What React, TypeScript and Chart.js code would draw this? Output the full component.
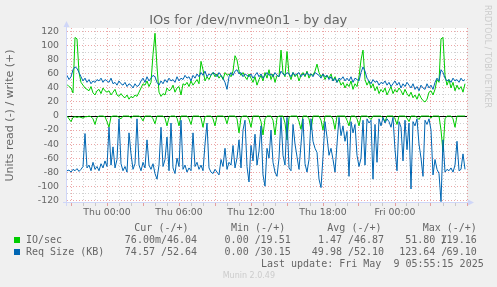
import React, { useEffect, useRef } from "react";
import { Chart, registerables } from "chart.js";

Chart.register(...registerables);

// ---- sampling (Wed 20:40 -> Fri 05:50, 10-minute samples, hours relative to Thu 00:00)
const START_HOUR = -10 / 3;
const STEP_HOUR = 1 / 6;

// ---- IO/sec, write (+)
const ioWrite = [
  45, 42, 40, 33, 112, 110, 62, 48, 44, 40,
  38, 36, 42, 33, 30, 36, 38, 32, 40, 36,
  34, 36, 30, 34, 38, 30, 28, 32, 28, 26,
  30, 24, 28, 26, 30, 28, 34, 40, 46, 44,
  50, 42, 48, 88, 118, 70, 34, 28, 32, 30,
  40, 36, 38, 44, 34, 40, 42, 30, 46, 44,
  48, 42, 50, 44, 48, 52, 46, 78, 66, 50,
  56, 52, 58, 62, 56, 60, 54, 58, 52, 62,
  58, 60, 56, 64, 86, 80, 64, 58, 62, 56,
  52,
  60, 54, 48, 56, 44, 52, 58, 50, 62, 54,
  66, 52, 60, 48, 58, 56, 94, 62, 56, 92,
  60, 52, 62, 56, 60, 50, 58, 62, 56, 64,
  54, 60, 58, 64, 74, 62, 56, 60, 52, 58,
  54, 60, 50, 56, 48, 52, 44, 48, 40, 46,
  42, 50, 38, 46, 42, 56, 80, 94, 52, 44,
  50, 40, 46, 36, 42, 32, 38, 34, 40, 30,
  36, 42, 32, 38, 34, 40, 36, 30, 38, 32,
  28, 34, 26, 30, 24, 32, 26, 22, 20, 24,
  34, 36, 30, 38, 52, 48, 110, 112, 58, 44,
  52, 40, 48, 36, 44, 38, 42, 34, 46,
];

// ---- IO/sec, read (-)
const ioRead = [
  0, -4, -8, -2, -1, -2, -1, -2, -3, -1,
  -1, 0, -1, -4, -12, -2, 0, 0, 0, -1,
  -8, -16, -1, 0, 0, 0, -2, -4, 0, 0,
  0, 0, -3, 0, 0, 0, 0, -2, -7, 0,
  0, 0, 0, -4, -11, 0, 0, 0, 0, -3,
  -14, -2, 0, 0, 0, -3, -14, 0, 0, 0,
  0, -4, -12, 0, 0, 0, 0, -3, -16, -1,
  0, 0, 0, -4, -14, 0, 0, 0, 0, -2,
  -11, 0, 0, 0, 0, -4, -24, -2, 0, 0,
  0, -5, -16, 0, 0, 0, 0, -8, -27, -4,
  0, 0, 0, -6, -27, -2, 0, 0, 0, -10,
  -34, -2, 0, 0, 0, 0, -8, -19, 0, 0,
  0, -4, -20, 0, 0, 0, 0, -6, -20, 0,
  0, 0, 0, -5, -19, 0, 0, 0, 0, 0,
  -6, -14, 0, 0, 0, -4, -14, 0, 0, 0,
  0, -2, -5, 0, 0, 0, 0, 0, -3, -8,
  0, 0, 0, 0, -4, -12, 0, 0, 0, 0,
  -3, -8, 0, 0, 0, -2, -5, 0, 0, 0,
  0, 0, -3, 0, 0, 0, 0, -20, -51, -4,
  0, 0, 0, -4, -16, 0, 0, 0, 0, 0,
];

// ---- Req Size (KB), write (+)
const reqWrite = [
  58, 52, 56, 66, 70, 68, 62, 56, 50, 54,
  48, 52, 46, 50, 48, 52, 50, 54, 48, 52,
  50, 48, 54, 46, 48, 44, 50, 46, 44, 48,
  42, 46, 44, 40, 46, 42, 44, 50, 54, 48,
  56, 50, 54, 58, 56, 48, 44, 50, 46, 52,
  48, 54, 50, 52, 48, 56, 50, 54, 52, 58,
  54, 56, 50, 58, 54, 60, 56, 62, 58, 64,
  56, 60, 58, 62, 60, 56, 62, 58, 54, 48,
  38, 56, 62, 58, 64, 66, 60, 62, 56, 60,
  58,
  56, 60, 54, 58, 62, 56, 60, 54, 58, 62,
  58, 60, 56, 62, 58, 56, 64, 60, 58, 62,
  60, 56, 62, 58, 60, 62, 56, 60, 58, 62,
  58, 60, 56, 62, 60, 58, 54, 60, 56, 58,
  52, 56, 50, 54, 48, 54, 52, 56, 50, 54,
  50, 56, 48, 54, 52, 50, 62, 70, 64, 54,
  50, 46, 52, 48, 50, 44, 48, 46, 50, 44,
  48, 42, 46, 50, 44, 48, 40, 46, 42, 48,
  44, 40, 46, 38, 42, 36, 44, 40, 38, 46,
  40, 44, 38, 48, 54, 50, 66, 62, 54, 50,
  52, 48, 54, 50, 52, 48, 54, 50, 52,
];

// ---- Req Size (KB), read (-)
const reqRead = [
  -78, -77, -80, -76, -78, -75, -79, -76, -72, -25,
  -74, -70, -78, -66, -76, -72, -78, -68, -74, -64,
  -72, -16, -70, -44, -74, -62, -4, -68, -78, -72,
  -80, -24, -54, -76, -68, -4, -70, -78, -66, -74,
  -34, -70, -76, -68, -82, -90, -70, -16, -72, -62,
  -30, -78, -10, -74, -82, -60, -72, -6, -76, -70,
  -80, -74, -78, -24, -72, -66, -76, -70, -78, -40,
  -10, -74, -80, -82, -76, -80, -84, -62, -72, -46,
  -76, -66, -70, -42, -74, -60, -34, -74, -20, -6,
  -72, -94, -42, -64, -26, -70, -50, -14, -84, -100,
  -46, -60, -20, -66, -80, -86, -60, -2, -56, -70,
  -2, -74, -78, -12, -40, -58, -76, -40, -4, -68,
  -80, -62, -4, -36, -46, -52, -90, -102, -58, -8,
  -30, -56, -46, -62, -80, -40, -2, -28, -14, -36,
  -22, -86, -8, -24, -12, -56, -72, -60, -6, -70,
  -4, -10, -6, -90, -12, -66, -4, -14, -2, -10,
  -4, -8, -16, -2, -48, -78, -8, -16, -64, -6,
  -48, -10, -104, -8, -14, -4, -40, -60, -86, -6,
  -12, -4, -20, -84, -62, -76, -82, -122, -34, -80,
  -76, -78, -74, -80, -70, -36, -78, -76, -54, -76,
];

// ---- axes
const X_TICK_HOURS = [0, 6, 12, 18, 24];
const X_TICK_LABELS = ["Thu 00:00", "Thu 06:00", "Thu 12:00", "Thu 18:00", "Fri 00:00"];
const X_MIN = -10 / 3;
const X_MAX = 30;
const Y_MIN = -124;
const Y_MAX = 125.5;
const Y_LABEL_TICKS = [-120, -100, -80, -60, -40, -20, 0, 20, 40, 60, 80, 100, 120];

// ---- legend
const SERIES_NAMES = ["IO/sec", "Req Size (KB)"];
const CUR_VALUES = ["76.00m/46.04", "74.57 /52.64"];
const MIN_VALUES = ["0.00 /19.51", "0.00 /30.15"];
const AVG_VALUES = ["1.47 /46.87", "49.98 /52.10"];
const MAX_VALUES = ["51.80 /119.16", "123.64 /69.10"];
const COLUMN_HEADERS = ["Cur (-/+)", "Min (-/+)", "Avg (-/+)", "Max (-/+)"];

const GREEN = "#00CC00";
const BLUE = "#0066B3";
const FONT_COLOR = "#666666";
const AXIS_COLOR = "#CFD6F8";
const GRID = "rgba(140,140,140,0.40)";
const MGRID = "rgba(210,60,60,0.45)";
const SANS = "'DejaVu Sans', sans-serif";
const MONO = "'DejaVu Sans Mono', monospace";

const toPoints = (arr: number[]) =>
  arr.map((v, i) => ({ x: START_HOUR + i * STEP_HOUR, y: v }));

const frame = {
  id: "muninFrame",
  beforeDraw(chart: any) {
    const { ctx, chartArea: a } = chart;
    ctx.save();
    ctx.fillStyle = "#FFFFFF";
    ctx.fillRect(a.left, a.top, a.right - a.left, a.bottom - a.top);
    ctx.restore();
  },
  afterDatasetsDraw(chart: any) {
    const { ctx, chartArea: a } = chart;
    ctx.save();
    ctx.strokeStyle = AXIS_COLOR;
    ctx.fillStyle = AXIS_COLOR;
    ctx.lineWidth = 1;
    const lx = Math.round(a.left) - 0.5;
    const by = Math.round(a.bottom) - 0.5;
    ctx.beginPath();
    ctx.moveTo(lx, a.bottom + 3);
    ctx.lineTo(lx, a.top - 3);
    ctx.moveTo(a.left - 4, by);
    ctx.lineTo(a.right + 2, by);
    ctx.stroke();
    ctx.beginPath();
    ctx.moveTo(lx - 3, a.top - 1);
    ctx.lineTo(lx + 3, a.top - 1);
    ctx.lineTo(lx, a.top - 7);
    ctx.closePath();
    ctx.fill();
    ctx.beginPath();
    ctx.moveTo(a.right + 1, by - 3);
    ctx.lineTo(a.right + 1, by + 3);
    ctx.lineTo(a.right + 7, by);
    ctx.closePath();
    ctx.fill();
    ctx.restore();
  },
};

function ValueCell({ text, slashRight, colRight, top }: { text: string; slashRight: number; colRight: number; top: number }) {
  const idx = text.indexOf("/");
  const left = text.slice(0, idx + 1);
  const right = text.slice(idx + 1);
  const base: React.CSSProperties = {
    position: "absolute",
    top,
    whiteSpace: "pre",
    fontFamily: MONO,
    fontSize: 10,
    lineHeight: "12px",
    color: FONT_COLOR,
  };
  return (
    <>
      <div style={{ ...base, right: 497 - slashRight }}>{left}</div>
      <div style={{ ...base, right: 497 - colRight }}>{right}</div>
    </>
  );
}

export default function App() {
  const ref = useRef<HTMLCanvasElement | null>(null);

  useEffect(() => {
    if (!ref.current) return;
    const chart = new Chart(ref.current, {
      type: "line",
      data: {
        datasets: [
          { label: "Req Size (KB) write", data: toPoints(reqWrite), borderColor: BLUE, borderWidth: 1, pointRadius: 0, tension: 0 },
          { label: "Req Size (KB) read", data: toPoints(reqRead), borderColor: BLUE, borderWidth: 1, pointRadius: 0, tension: 0 },
          { label: "IO/sec write", data: toPoints(ioWrite), borderColor: GREEN, borderWidth: 1, pointRadius: 0, tension: 0 },
          { label: "IO/sec read", data: toPoints(ioRead), borderColor: GREEN, borderWidth: 1, pointRadius: 0, tension: 0 },
        ],
      },
      options: {
        responsive: false,
        animation: false,
        devicePixelRatio: 1,
        layout: { padding: { left: 0, top: 28, right: 30, bottom: 0 } },
        plugins: { legend: { display: false }, title: { display: false }, tooltip: { enabled: false } },
        scales: {
          x: {
            type: "linear",
            min: X_MIN,
            max: X_MAX,
            afterBuildTicks: (axis: any) => {
              const t: any[] = [];
              for (let h = -3; h <= 30; h++) t.push({ value: h });
              axis.ticks = t;
            },
            afterFit: (s: any) => {
              s.height = 84;
            },
            ticks: {
              autoSkip: false,
              maxRotation: 0,
              minRotation: 0,
              padding: 1,
              color: FONT_COLOR,
              font: { family: SANS, size: 9.33 },
              callback: (v: any) => {
                const k = X_TICK_HOURS.indexOf(Number(v));
                return k >= 0 ? X_TICK_LABELS[k] : "";
              },
            },
            grid: {
              color: (c: any) => (c.tick && c.tick.value % 3 === 0 ? MGRID : GRID),
              tickColor: (c: any) => (c.tick && c.tick.value % 3 === 0 ? MGRID : GRID),
              drawTicks: true,
              tickLength: 3,
            },
            border: { display: false, dash: [1, 2] },
          },
          y: {
            type: "linear",
            min: Y_MIN,
            max: Y_MAX,
            afterBuildTicks: (axis: any) => {
              const t: any[] = [];
              for (let v = -120; v <= 120; v += 10) t.push({ value: v });
              axis.ticks = t;
            },
            afterFit: (s: any) => {
              s.width = 67;
            },
            ticks: {
              autoSkip: false,
              padding: 8,
              color: FONT_COLOR,
              font: { family: SANS, size: 9.33 },
              callback: (v: any) => (Y_LABEL_TICKS.indexOf(Number(v)) >= 0 ? String(v) : ""),
            },
            grid: {
              color: (c: any) =>
                c.tick && c.tick.value === 0 ? "#000000" : c.tick && c.tick.value % 20 === 0 ? MGRID : GRID,
              drawTicks: false,
            },
            border: { display: false, dash: (c: any) => (c.tick && c.tick.value === 0 ? [] : [1, 2]) },
            title: {
              display: true,
              text: "Units read (-) / write (+)",
              color: FONT_COLOR,
              font: { family: SANS, size: 11 },
              padding: { top: 4, bottom: 0 },
            },
          },
        },
      },
      plugins: [frame],
    } as any);
    return () => chart.destroy();
  }, []);

  const rowTops = [233.5, 245.5];
  const squareTops = [237, 249];
  const colors = [GREEN, BLUE];
  const headerLefts = [134.3, 231, 327.3, 422.7];
  const slashRights = [167, 260.7, 354, 447.3];
  const colRights = [197, 290.7, 384, 476.7];
  const valueCols = [CUR_VALUES, MIN_VALUES, AVG_VALUES, MAX_VALUES];

  const mono: React.CSSProperties = {
    position: "absolute",
    whiteSpace: "pre",
    fontFamily: MONO,
    fontSize: 10,
    lineHeight: "12px",
    color: FONT_COLOR,
  };

  return (
    <div
      style={{
        position: "fixed",
        left: 0,
        top: 0,
        width: 497,
        height: 287,
        background: "#F0F0F0",
        overflow: "hidden",
      }}
    >
      <canvas ref={ref} width={497} height={287} style={{ position: "absolute", left: 0, top: 0, width: 497, height: 287 }} />
      <div
        style={{
          position: "absolute",
          left: 0,
          width: 497,
          top: 12,
          textAlign: "center",
          paddingLeft: 0,
          fontFamily: SANS,
          fontSize: 13,
          lineHeight: "15px",
          color: FONT_COLOR,
          whiteSpace: "pre",
        }}
      >
        <span style={{ position: "absolute", left: 248.3, transform: "translateX(-50%)" }}>IOs for /dev/nvme0n1 - by day</span>
      </div>
      <div
        style={{
          position: "absolute",
          left: 483,
          top: 5,
          writingMode: "vertical-rl",
          fontFamily: SANS,
          fontSize: 8,
          lineHeight: "8px",
          color: "#CCCCCC",
          whiteSpace: "pre",
        }}
      >
        RRDTOOL / TOBI OETIKER
      </div>
      {COLUMN_HEADERS.map((h, i) => (
        <div key={h} style={{ ...mono, left: headerLefts[i], top: 222 }}>
          {h}
        </div>
      ))}
      {SERIES_NAMES.map((name, r) => (
        <React.Fragment key={name}>
          <div style={{ position: "absolute", left: 14, top: squareTops[r], width: 6, height: 6, background: colors[r] }} />
          <div style={{ ...mono, left: 26, top: rowTops[r] }}>{name}</div>
          {valueCols.map((col, c) => (
            <ValueCell key={c} text={col[r]} slashRight={slashRights[c]} colRight={colRights[c]} top={rowTops[r]} />
          ))}
        </React.Fragment>
      ))}
      <div style={{ ...mono, right: 497 - 483.7, top: 258.2 }}>Last update: Fri May  9 05:55:15 2025</div>
      <div
        style={{
          position: "absolute",
          left: 222.7,
          top: 271,
          fontFamily: SANS,
          fontSize: 8,
          lineHeight: "10px",
          color: "#CCCCCC",
          whiteSpace: "pre",
        }}
      >
        Munin 2.0.49
      </div>
    </div>
  );
}
